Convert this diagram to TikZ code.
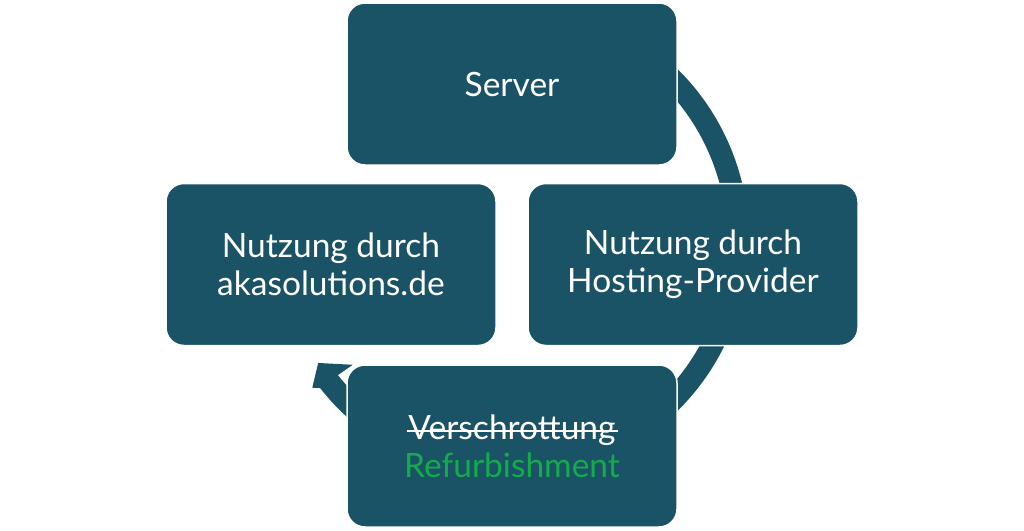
\documentclass[tikz,border=0pt]{standalone}
\usepackage{fontspec}
\setmainfont{Lato}
\usepackage{xcolor}

\definecolor{petrol}{RGB}{27,83,102}
\definecolor{refgreen}{RGB}{18,172,76}

% durchgestrichenes wort
\newcommand{\durchgestrichen}[1]{\setbox0\hbox{#1}\rlap{\kern-2pt\rule[0.45ex]{\dimexpr\wd0+4pt\relax}{1.8pt}}\box0}

\tikzset{
  cyclebox/.style={draw=white, line width=1.5pt, fill=petrol, rounded corners=18pt,
    minimum width=330pt, minimum height=162pt, text=white, align=center,
    font=\fontsize{33.5}{38}\selectfont},
}

\begin{document}
\begin{tikzpicture}[x=1pt,y=-1pt]
\useasboundingbox (0,0) rectangle (1024,530);

% kreispfeil hinter den boxen
\coordinate (mitte) at (509,240);
\fill[petrol, shift={(mitte)}] (-60:240) arc[start angle=-60, end angle=141.9, radius=240]
  -- (143.1:246) -- (147.2:227) -- (141.4:200) -- (141.7:218)
  arc[start angle=141.7, end angle=-60, radius=218] -- cycle;

% boxen
\node[cyclebox] (server) at (512,84) {Server};
\node[cyclebox] (hosting) at (693,264.5) {Nutzung durch\\Hosting-Provider};
\node[cyclebox] (aka) at (331,264.5) {Nutzung durch\\akasolutions.de};
\node[cyclebox] (schrott) at (512,446) {\durchgestrichen{Verschrottung}\\\textcolor{refgreen}{Refurbishment}};

\end{tikzpicture}
\end{document}
